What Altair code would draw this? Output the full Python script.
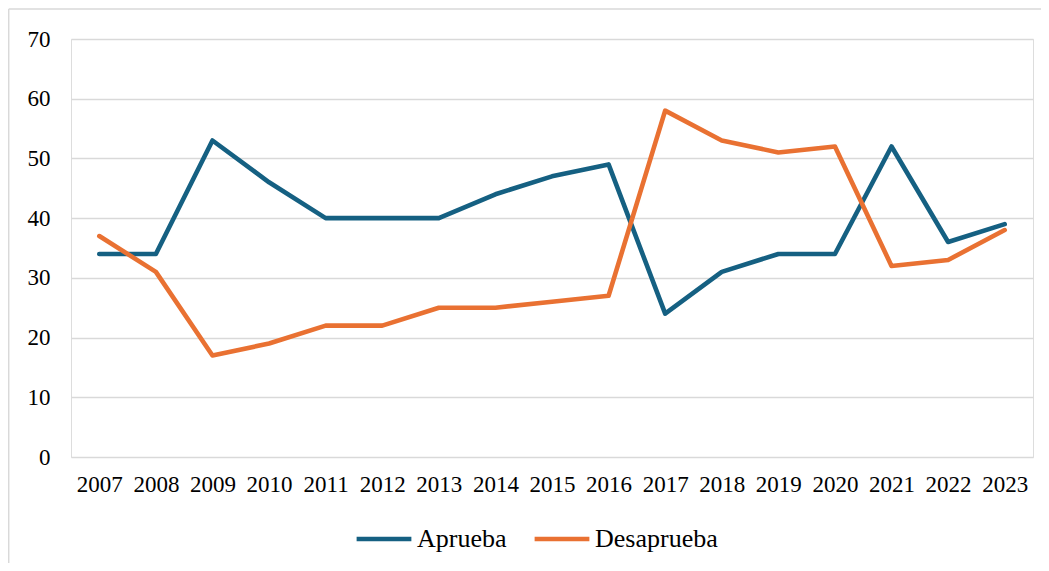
import altair as alt
import pandas as pd

years = [str(y) for y in range(2007, 2024)]
aprueba = [34, 34, 53, 46, 40, 40, 40, 44, 47, 49, 24, 31, 34, 34, 52, 36, 39]
desaprueba = [37, 31, 17, 19, 22, 22, 25, 25, 26, 27, 58, 53, 51, 52, 32, 33, 38]
series = ["Aprueba", "Desaprueba"]
colors = ["#156082", "#E97132"]
y_ticks = [0, 10, 20, 30, 40, 50, 60, 70]

rows = []
for i, yr in enumerate(years):
    rows.append({"Año": yr, "Serie": series[0], "Valor": aprueba[i], "o": 0})
    rows.append({"Año": yr, "Serie": series[1], "Valor": desaprueba[i], "o": 1})
df = pd.DataFrame(rows)

FONT = "Liberation Serif"
W, H = 962, 418

lines = alt.Chart(df).mark_line(strokeWidth=4.6, strokeCap="round", strokeJoin="round").encode(
    x=alt.X("Año:N", sort=years,
            scale=alt.Scale(type="point", padding=0.5),
            axis=alt.Axis(title=None, labelAngle=0, ticks=False, domain=False, grid=False,
                          labelPadding=16, labelFontSize=23, labelFont=FONT,
                          labelColor="#000000")),
    y=alt.Y("Valor:Q", scale=alt.Scale(domain=[0, 70], nice=False),
            axis=alt.Axis(title=None, values=y_ticks, ticks=False, domain=False,
                          grid=True, gridColor="#d9d9d9", gridWidth=1.5,
                          labelPadding=21, labelFontSize=23, labelFont=FONT,
                          labelColor="#000000")),
    color=alt.Color("Serie:N", scale=alt.Scale(domain=series, range=colors),
                    legend=alt.Legend(title=None, orient="none", direction="horizontal",
                                      legendX=283, legendY=470,
                                      symbolType="stroke", symbolSize=3000,
                                      symbolStrokeWidth=4.6, labelFontSize=26,
                                      labelFont=FONT, labelColor="#000000",
                                      labelOffset=3, columnPadding=18, padding=0)),
    order="o:Q",
    detail="Serie:N",
)

border_left = alt.Chart(pd.DataFrame({"a": [0]})).mark_rule(color="#d9d9d9", strokeWidth=1.5).encode(
    x=alt.value(-62.3), y=alt.value(-30), y2=alt.value(600))
border_top = alt.Chart(pd.DataFrame({"a": [0]})).mark_rule(color="#d9d9d9", strokeWidth=1.5).encode(
    x=alt.value(-62.3), x2=alt.value(1100), y=alt.value(-30))

chart = alt.layer(border_left, border_top, lines).properties(
    width=W, height=H,
    autosize=alt.AutoSizeParams(type="none"),
    padding={"left": 63, "top": 31, "right": 8, "bottom": 106},
).configure_view(stroke=None).configure(background="#ffffff")

chart.save("out.html", embed_options={"renderer": "svg", "actions": False})
